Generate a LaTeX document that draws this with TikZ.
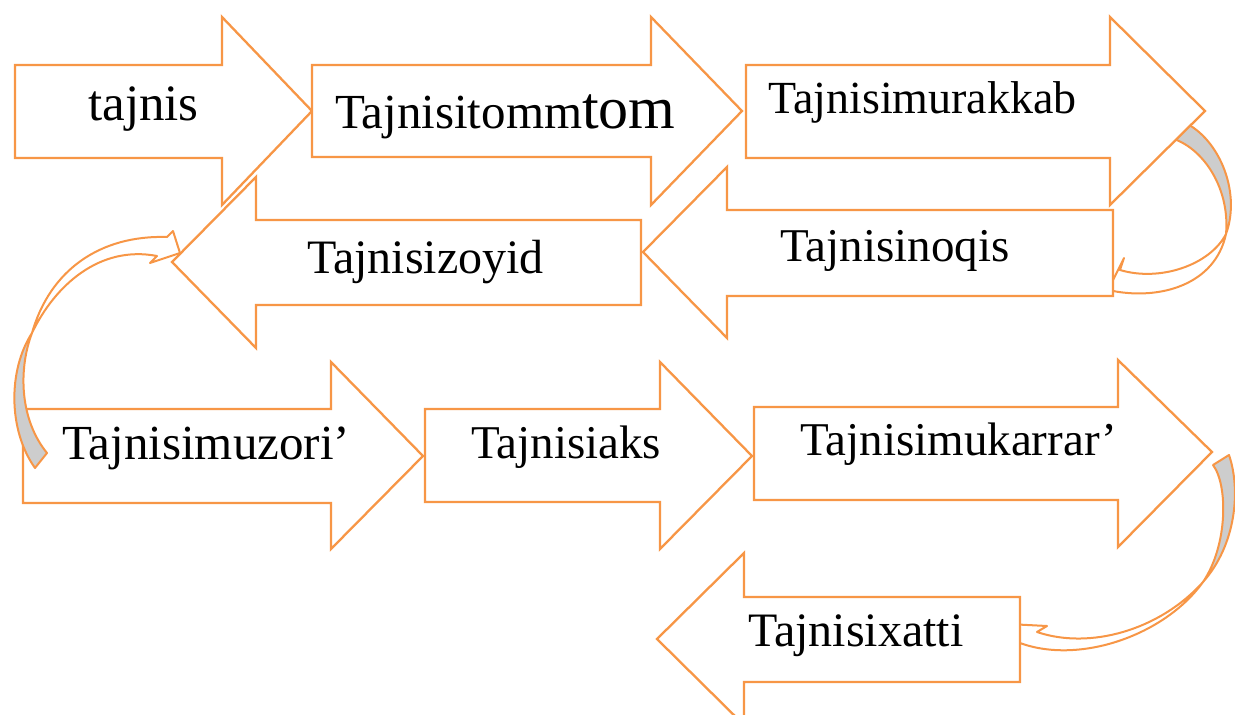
\documentclass[tikz,border=0pt]{standalone}
\usepackage{fontspec}
\setmainfont{Liberation Serif}
\definecolor{acc}{HTML}{F79646}
\definecolor{backgray}{HTML}{CDCDCD}
\tikzset{
  blk/.style={draw=acc, line width=2.3pt, fill=white, line join=miter},
  band/.style={draw=acc, line width=2pt, fill=white, line join=round},
  bandback/.style={band, fill=backgray},
  lbl/.style={anchor=base west, inner sep=0pt, font=\fontsize{47}{50}\selectfont}
}
\begin{document}
\begin{tikzpicture}[x=1pt,y=-1pt]
\useasboundingbox (0,0) rectangle (1235,715);
\clip (0,0) rectangle (1235,715);

% curved connectors lying behind the boxes
% murakkab -> noqis
\path[bandback] (1181,121) .. controls (1217,135) and (1242,190) .. (1226,234)
   .. controls (1230,190) and (1205,150) .. (1174,139) -- cycle;
\path[band] (1226,234) .. controls (1215,285) and (1160,300) .. (1113,291)
   -- (1111,284) -- (1124,258) -- (1120,270)
   .. controls (1160,282) and (1210,265) .. (1226,234) -- cycle;
% mukarrar -> xatti
\path[bandback] (1229,455) .. controls (1241,490) and (1236,545) .. (1203,582)
   .. controls (1228,545) and (1228,485) .. (1213,465) -- cycle;
\path[band] (1203,582) .. controls (1165,635) and (1080,665) .. (1020,643)
   -- (1008,624) -- (1047,626) -- (1037,632)
   .. controls (1090,650) and (1160,630) .. (1203,582) -- cycle;

% row 1 (right arrows)
\path[blk] (15,65) -- (222,65) -- (222,17) -- (312,111) -- (222,205) -- (222,158) -- (15,158) -- cycle;
\path[blk] (312,65) -- (651,65) -- (651,17) -- (742,111) -- (651,205) -- (651,157) -- (312,157) -- cycle;
\path[blk] (746,65) -- (1110,65) -- (1110,17) -- (1205,111) -- (1110,205) -- (1110,158) -- (746,158) -- cycle;
% row 2 (left arrows)
\path[blk] (1113,210) -- (727,210) -- (727,167) -- (643,252) -- (727,338) -- (727,296) -- (1113,296) -- cycle;
\path[blk] (641,220) -- (256,220) -- (256,177) -- (172,262) -- (256,348) -- (256,305) -- (641,305) -- cycle;
% row 3 (right arrows)
\path[blk] (23,409) -- (331,409) -- (331,362) -- (423,456) -- (331,549) -- (331,503) -- (23,503) -- cycle;
\path[blk] (425,409) -- (660,409) -- (660,362) -- (752,456) -- (660,549) -- (660,502) -- (425,502) -- cycle;
\path[blk] (754,407) -- (1118,407) -- (1118,360) -- (1212,452) -- (1118,547) -- (1118,500) -- (754,500) -- cycle;
% row 4 (left arrow)
\path[blk] (1020,597) -- (744,597) -- (744,553) -- (657,639) -- (744,725) -- (744,682) -- (1020,682) -- cycle;

% zoyid -> muzori' (on top)
\path[bandback] (47,453) .. controls (20,420) and (18,370) .. (32,333)
   .. controls (8,370) and (8,430) .. (35,468) -- cycle;
\path[band] (32,333) .. controls (50,270) and (100,235) .. (167,237)
   -- (173,231) -- (180,253) -- (150,263) -- (157,256)
   .. controls (100,245) and (55,285) .. (32,333) -- cycle;

% labels
\node[lbl, font=\fontsize{51}{52}\selectfont] (t1) at (88,120) {tajnis};
\node[lbl, font=\fontsize{49}{52}\selectfont] (t2) at (335,128) {Tajnisitomm{\fontsize{60}{60}\selectfont tom}};
\node[lbl, font=\fontsize{46}{50}\selectfont] (t3) at (768,113) {Tajnisimurakkab};
\node[lbl] (t4) at (780,261) {Tajnisinoqis};
\node[lbl, font=\fontsize{48}{50}\selectfont] (t5) at (307,273) {Tajnisizoyid};
\node[lbl, font=\fontsize{49}{52}\selectfont] (t6) at (62,459) {Tajnisimuzori’};
\node[lbl] (t7) at (471,458) {Tajnisiaks};
\node[lbl] (t8) at (800,455) {Tajnisimukarrar’};
\node[lbl, font=\fontsize{48}{50}\selectfont] (t9) at (748,646) {Tajnisixatti};
\end{tikzpicture}
\end{document}
